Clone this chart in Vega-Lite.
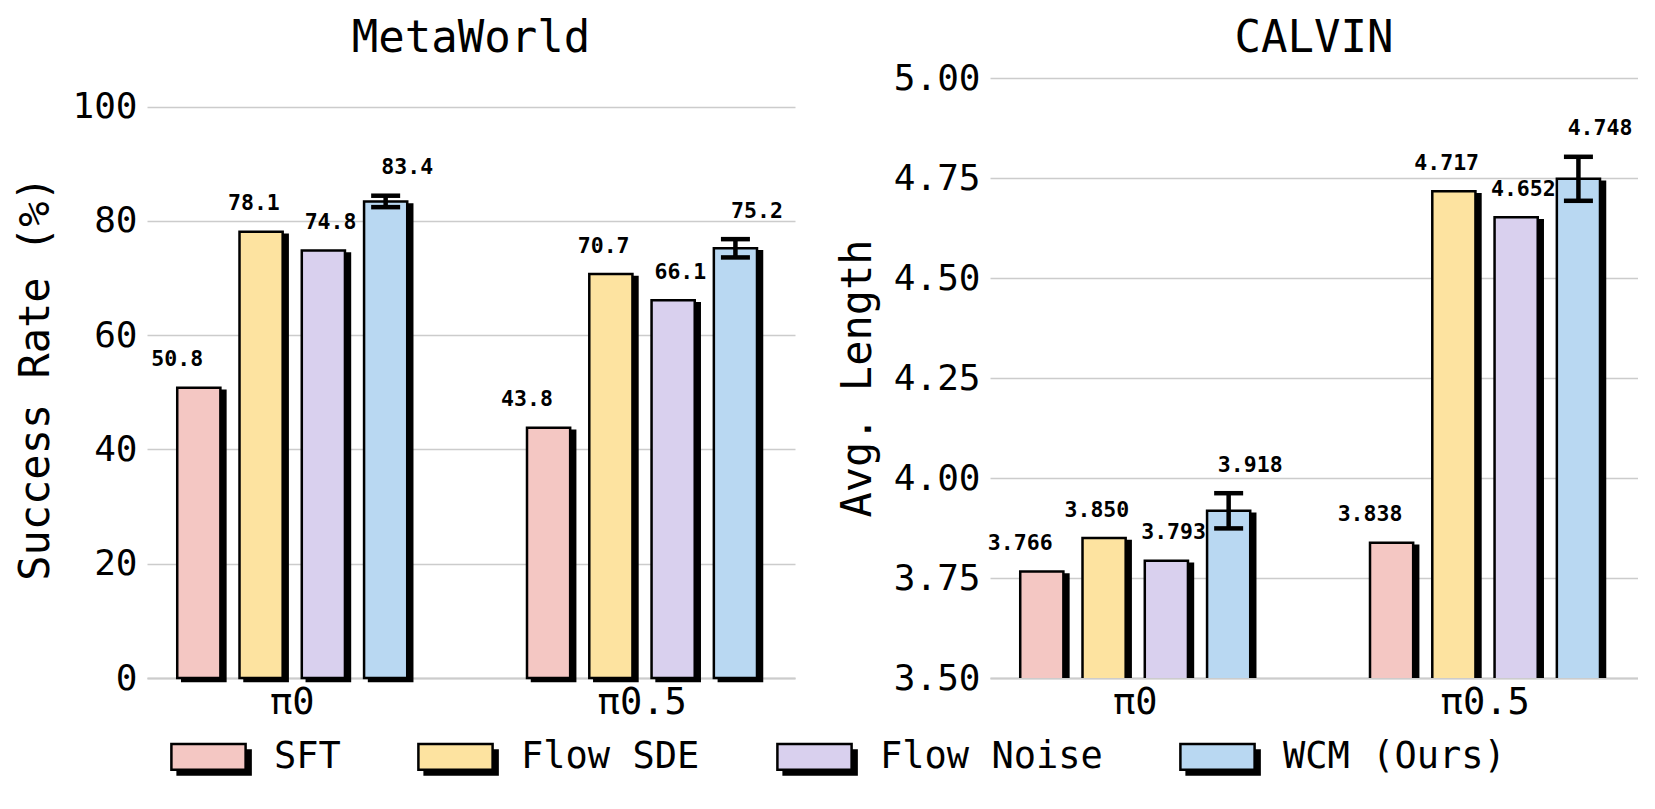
{
  "$schema": "https://vega.github.io/schema/vega-lite/v6.json",
  "padding": {"left": 14, "top": 17, "right": 0, "bottom": 0},
  "background": "white",
  "config": {
    "view": {"stroke": null},
    "font": "DejaVu Sans Mono",
    "title": {"font": "DejaVu Sans Mono", "fontSize": 44, "fontWeight": "normal", "color": "black", "anchor": "middle"},
    "axis": {"labelFont": "DejaVu Sans Mono", "titleFont": "DejaVu Sans Mono", "labelColor": "black", "titleColor": "black", "titleFontWeight": "normal"},
    "legend": {"labelFont": "DejaVu Sans Mono"}
  },
  "datasets": {
    "metaworld": [
      {"group": "π0", "method": "SFT", "value": 50.8},
      {"group": "π0", "method": "Flow SDE", "value": 78.1},
      {"group": "π0", "method": "Flow Noise", "value": 74.8},
      {"group": "π0", "method": "WCM (Ours)", "value": 83.4, "err": 1.0},
      {"group": "π0.5", "method": "SFT", "value": 43.8},
      {"group": "π0.5", "method": "Flow SDE", "value": 70.7},
      {"group": "π0.5", "method": "Flow Noise", "value": 66.1},
      {"group": "π0.5", "method": "WCM (Ours)", "value": 75.2, "err": 1.6}
    ],
    "calvin": [
      {"group": "π0", "method": "SFT", "value": 3.766},
      {"group": "π0", "method": "Flow SDE", "value": 3.850},
      {"group": "π0", "method": "Flow Noise", "value": 3.793},
      {"group": "π0", "method": "WCM (Ours)", "value": 3.918, "err": 0.044},
      {"group": "π0.5", "method": "SFT", "value": 3.838},
      {"group": "π0.5", "method": "Flow SDE", "value": 4.717},
      {"group": "π0.5", "method": "Flow Noise", "value": 4.652},
      {"group": "π0.5", "method": "WCM (Ours)", "value": 4.748, "err": 0.055}
    ]
  },
  "hconcat": [
    {
      "width": 648,
      "height": 600,
      "title": {"text": "MetaWorld", "offset": 17},
      "data": {"name": "metaworld"},
      "transform": [
        {"calculate": "datum.value - (datum.err || 0)", "as": "lo"},
        {"calculate": "datum.value + (datum.err || 0)", "as": "hi"}
      ],
      "encoding": {
        "x": {
          "field": "group", "type": "nominal", "title": null,
          "scale": {"domain": ["π0", "π0.5"], "paddingInner": 0.3416, "paddingOuter": 0.0971, "align": 0.445},
          "axis": {"labelAngle": 0, "labelFontSize": 37, "labelPadding": 6, "ticks": false, "domain": true, "domainColor": "#cccccc", "domainWidth": 2}
        }
      },
      "layer": [
        {
          "mark": {"type": "bar", "fill": "black", "stroke": "black", "strokeWidth": 2.5, "yOffset": 3},
          "encoding": {
            "xOffset": {"field": "method", "scale": {"domain": ["SFT", "Flow SDE", "Flow Noise", "WCM (Ours)"], "range": [5, 235], "paddingInner": 0.307, "paddingOuter": 0}},
            "y": {
              "field": "value", "type": "quantitative", "title": "Success Rate (%)",
              "scale": {"domain": [0, 105], "nice": false},
              "axis": {"values": [0, 20, 40, 60, 80, 100], "labelFontSize": 36, "titleFontSize": 42, "titlePadding": 14, "labelPadding": 10, "ticks": false, "domain": false, "gridColor": "#cccccc", "gridWidth": 1.7}
            }
          }
        },
        {
          "mark": {"type": "bar", "stroke": "black", "strokeWidth": 2.5},
          "encoding": {
            "xOffset": {"field": "method", "scale": {"domain": ["SFT", "Flow SDE", "Flow Noise", "WCM (Ours)"], "range": [0, 230], "paddingInner": 0.307, "paddingOuter": 0}},
            "y": {"field": "value", "type": "quantitative", "title": "Success Rate (%)"},
            "fill": {
              "field": "method", "type": "nominal",
              "scale": {"domain": ["SFT", "Flow SDE", "Flow Noise", "WCM (Ours)"], "range": ["#f4c7c3", "#fde3a0", "#d9d0ee", "#b9d8f2"]},
              "legend": {"orient": "none", "legendX": 23, "legendY": 640, "direction": "horizontal", "title": null, "padding": 0,
                "symbolType": "M-1,-0.344H1V0.344H-1Z M1.067,-0.175H1.135V0.478H1.067Z M-0.832,0.411H1.135V0.478H-0.832Z",
                "symbolSize": 5506, "symbolStrokeColor": "black", "symbolStrokeWidth": 2.5,
                "labelFontSize": 37, "labelLimit": 500, "labelOffset": 27, "columnPadding": 72, "labelColor": "black"}
            }
          }
        },
        {
          "transform": [{"filter": "datum.err > 0"}],
          "mark": {"type": "rule", "color": "black", "strokeWidth": 4.5},
          "encoding": {
            "xOffset": {"field": "method", "scale": {"domain": ["SFT", "Flow SDE", "Flow Noise", "WCM (Ours)"], "range": [0, 230], "paddingInner": 0.307, "paddingOuter": 0}},
            "y": {"field": "lo", "type": "quantitative", "title": "Success Rate (%)"},
            "y2": {"field": "hi"}
          }
        },
        {
          "transform": [{"filter": "datum.err > 0"}],
          "mark": {"type": "tick", "color": "black", "size": 29, "thickness": 4.5, "opacity": 1},
          "encoding": {
            "xOffset": {"field": "method", "scale": {"domain": ["SFT", "Flow SDE", "Flow Noise", "WCM (Ours)"], "range": [0, 230], "paddingInner": 0.307, "paddingOuter": 0}},
            "y": {"field": "lo", "type": "quantitative", "title": "Success Rate (%)"}
          }
        },
        {
          "transform": [{"filter": "datum.err > 0"}],
          "mark": {"type": "tick", "color": "black", "size": 29, "thickness": 4.5, "opacity": 1},
          "encoding": {
            "xOffset": {"field": "method", "scale": {"domain": ["SFT", "Flow SDE", "Flow Noise", "WCM (Ours)"], "range": [0, 230], "paddingInner": 0.307, "paddingOuter": 0}},
            "y": {"field": "hi", "type": "quantitative", "title": "Success Rate (%)"}
          }
        },
        {
          "mark": {"type": "text", "font": "DejaVu Sans Mono", "fontWeight": "bold", "fontSize": 21.5, "baseline": "middle", "dy": -27.5, "color": "black"},
          "encoding": {
            "xOffset": {"field": "method", "scale": {"domain": ["SFT", "Flow SDE", "Flow Noise", "WCM (Ours)"], "range": [0, 230], "paddingInner": 0.307, "paddingOuter": 0}},
            "y": {"field": "hi", "type": "quantitative", "title": "Success Rate (%)"},
            "text": {"field": "value", "type": "quantitative", "format": ".1f"}
          }
        }
      ],
      "resolve": {"scale": {"xOffset": "independent"}}
    },
    {
      "width": 648,
      "height": 600,
      "title": {"text": "CALVIN", "offset": -1},
      "data": {"name": "calvin"},
      "transform": [
        {"calculate": "datum.value - (datum.err || 0)", "as": "lo"},
        {"calculate": "datum.value + (datum.err || 0)", "as": "hi"}
      ],
      "encoding": {
        "x": {
          "field": "group", "type": "nominal", "title": null,
          "scale": {"domain": ["π0", "π0.5"], "paddingInner": 0.3416, "paddingOuter": 0.0971, "align": 0.445},
          "axis": {"labelAngle": 0, "labelFontSize": 37, "labelPadding": 6, "ticks": false, "domain": true, "domainColor": "#cccccc", "domainWidth": 2}
        }
      },
      "layer": [
        {
          "mark": {"type": "bar", "fill": "black", "stroke": "black", "strokeWidth": 2.5, "yOffset": 3, "clip": true},
          "encoding": {
            "xOffset": {"field": "method", "scale": {"domain": ["SFT", "Flow SDE", "Flow Noise", "WCM (Ours)"], "range": [5, 235], "paddingInner": 0.307, "paddingOuter": 0}},
            "y": {
              "field": "value", "type": "quantitative", "title": "Avg. Length",
              "scale": {"domain": [3.5, 5.0], "nice": false, "zero": false},
              "axis": {"values": [3.5, 3.75, 4.0, 4.25, 4.5, 4.75, 5.0], "format": ".2f", "labelFontSize": 36, "titleFontSize": 42, "titlePadding": 14, "labelPadding": 10, "ticks": false, "domain": false, "gridColor": "#cccccc", "gridWidth": 1.7}
            }
          }
        },
        {
          "mark": {"type": "bar", "stroke": "black", "strokeWidth": 2.5, "clip": true},
          "encoding": {
            "xOffset": {"field": "method", "scale": {"domain": ["SFT", "Flow SDE", "Flow Noise", "WCM (Ours)"], "range": [0, 230], "paddingInner": 0.307, "paddingOuter": 0}},
            "y": {"field": "value", "type": "quantitative", "title": "Avg. Length"},
            "fill": {
              "field": "method", "type": "nominal",
              "scale": {"domain": ["SFT", "Flow SDE", "Flow Noise", "WCM (Ours)"], "range": ["#f4c7c3", "#fde3a0", "#d9d0ee", "#b9d8f2"]}
            }
          }
        },
        {
          "transform": [{"filter": "datum.err > 0"}],
          "mark": {"type": "rule", "color": "black", "strokeWidth": 4.5},
          "encoding": {
            "xOffset": {"field": "method", "scale": {"domain": ["SFT", "Flow SDE", "Flow Noise", "WCM (Ours)"], "range": [0, 230], "paddingInner": 0.307, "paddingOuter": 0}},
            "y": {"field": "lo", "type": "quantitative", "title": "Avg. Length"},
            "y2": {"field": "hi"}
          }
        },
        {
          "transform": [{"filter": "datum.err > 0"}],
          "mark": {"type": "tick", "color": "black", "size": 29, "thickness": 4.5, "opacity": 1},
          "encoding": {
            "xOffset": {"field": "method", "scale": {"domain": ["SFT", "Flow SDE", "Flow Noise", "WCM (Ours)"], "range": [0, 230], "paddingInner": 0.307, "paddingOuter": 0}},
            "y": {"field": "lo", "type": "quantitative", "title": "Avg. Length"}
          }
        },
        {
          "transform": [{"filter": "datum.err > 0"}],
          "mark": {"type": "tick", "color": "black", "size": 29, "thickness": 4.5, "opacity": 1},
          "encoding": {
            "xOffset": {"field": "method", "scale": {"domain": ["SFT", "Flow SDE", "Flow Noise", "WCM (Ours)"], "range": [0, 230], "paddingInner": 0.307, "paddingOuter": 0}},
            "y": {"field": "hi", "type": "quantitative", "title": "Avg. Length"}
          }
        },
        {
          "mark": {"type": "text", "font": "DejaVu Sans Mono", "fontWeight": "bold", "fontSize": 21.5, "baseline": "middle", "dy": -27.5, "color": "black"},
          "encoding": {
            "xOffset": {"field": "method", "scale": {"domain": ["SFT", "Flow SDE", "Flow Noise", "WCM (Ours)"], "range": [0, 230], "paddingInner": 0.307, "paddingOuter": 0}},
            "y": {"field": "hi", "type": "quantitative", "title": "Avg. Length"},
            "text": {"field": "value", "type": "quantitative", "format": ".3f"}
          }
        }
      ],
      "resolve": {"scale": {"xOffset": "independent"}}
    }
  ],
  "spacing": 41,
  "resolve": {"scale": {"xOffset": "independent"}}
}
